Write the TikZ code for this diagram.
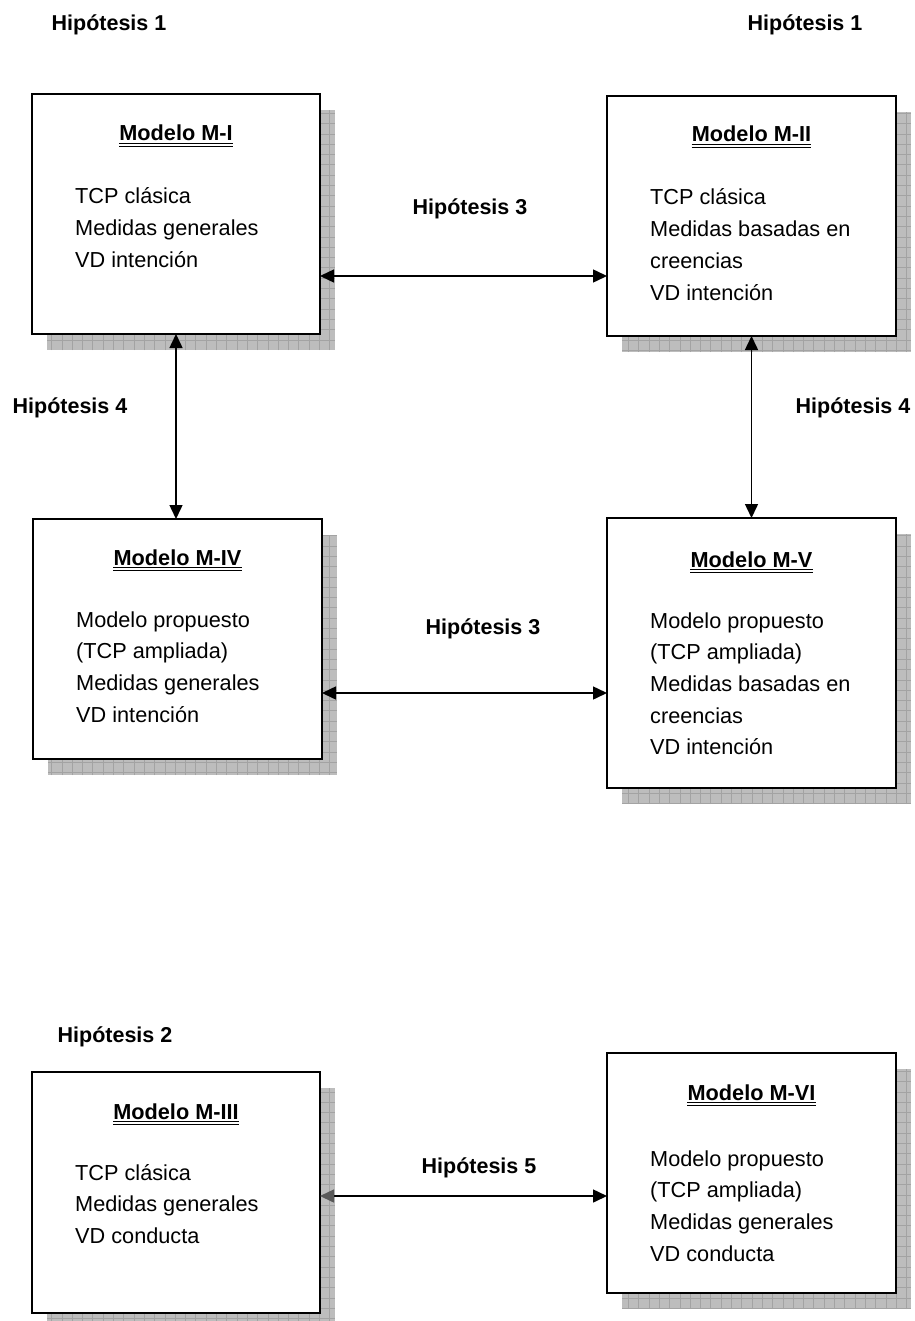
\documentclass[tikz,border=0pt]{standalone}
\usepackage{fontspec}
\setmainfont{Liberation Sans}
\usetikzlibrary{arrows.meta}

% #1 name, #2 x, #3 y (top-left), #4 width, #5 height,
% #6 title, #7 title baseline offset, #8 first body baseline offset, #9 body lines
\newcommand\modelo[9]{%
  \begin{scope}
    \clip (#2+15,#3+16) rectangle (#2+#4+15,#3+#5+16);
    \fill[shadowfill] (#2+15,#3+16) rectangle (#2+#4+15,#3+#5+16);
    \draw[shadowgrid] (#2+15,#3+16) grid[step=10.3pt] (#2+#4+15,#3+#5+16);
  \end{scope}
  \node[modelbox, minimum width=#4, minimum height=#5, anchor=north west] (#1) at (#2,#3) {};
  \node[modeltitle, anchor=base] (#1t) at ([yshift=-#7pt]#1.north) {#6};
  \draw[line width=1.1pt] ([yshift=-2.8pt]#1t.base west) -- ([yshift=-2.8pt]#1t.base east);
  \draw[line width=1.1pt] ([yshift=-5.6pt]#1t.base west) -- ([yshift=-5.6pt]#1t.base east);
  \node[modelbody, anchor=base west] (#1b) at ([xshift=43pt,yshift=-#8pt]#1.north west)
    {\vtop{\hsize=240pt\parindent=0pt\parskip=0pt\baselineskip=31.7pt #9}};
}

\begin{document}
\begin{tikzpicture}[x=1pt,y=-1pt,
  shadowfill/.style={fill=black!26},
  shadowgrid/.style={draw=black!36, line width=0.6pt},
  modelbox/.style={draw=black, line width=2pt, fill=white, inner sep=0pt, outer sep=0pt},
  modeltitle/.style={font=\fontsize{21.7pt}{26pt}\selectfont\bfseries, inner sep=0pt},
  modelbody/.style={font=\fontsize{21.7pt}{31.7pt}\selectfont, inner sep=0pt},
  hyp/.style={font=\fontsize{21.5pt}{26pt}\selectfont\bfseries, inner sep=0pt, anchor=base},
  link/.style={line width=1.5pt, {Triangle[length=14pt,width=13pt]}-{Triangle[length=14pt,width=13pt]}}
]
\useasboundingbox[fill=white] (0,0) rectangle (914,1321);

% upper grid of four models
\modelo{m1}{32}{94}{288}{240}{Modelo M-I}{47}{110}{TCP clásica\par Medidas generales\par VD intención}
\modelo{m2}{607}{96}{289}{240}{Modelo M-II}{46}{109}{TCP clásica\par Medidas basadas en\par creencias\par VD intención}
\modelo{m4}{33}{519}{289}{240}{Modelo M-IV}{46}{108}{Modelo propuesto\par (TCP ampliada)\par Medidas generales\par VD intención}
\modelo{m5}{607}{518}{289}{270}{Modelo M-V}{49}{110}{Modelo propuesto\par (TCP ampliada)\par Medidas basadas en\par creencias\par VD intención}

% lower pair of models
\modelo{m3}{32}{1072}{288}{241}{Modelo M-III}{47}{108}{TCP clásica\par Medidas generales\par VD conducta}
\modelo{m6}{607}{1053}{289}{240}{Modelo M-VI}{47}{113}{Modelo propuesto\par (TCP ampliada)\par Medidas generales\par VD conducta}

% hypothesis labels
\node[hyp] (h1a) at (109,31) {Hipótesis 1};
\node[hyp] (h1b) at (805,31) {Hipótesis 1};
\node[hyp] (h3a) at (470,215) {Hipótesis 3};
\node[hyp] (h4a) at (70,413) {Hipótesis 4};
\node[hyp] (h4b) at (853,413) {Hipótesis 4};
\node[hyp] (h3b) at (483,634) {Hipótesis 3};
\node[hyp] (h2) at (115,1042) {Hipótesis 2};
\node[hyp] (h5) at (479,1173) {Hipótesis 5};

% comparisons between models
\draw[link] (m1.east |- 0,276) -- (m2.west |- 0,276);
\draw[link] (m4.east |- 0,693) -- (m5.west |- 0,693);
\draw[link] (m1.south) -- (m1.south |- m4.north);
\draw[link] (m2.south) -- (m2.south |- m5.north);
\draw[line width=1.5pt, {Triangle[length=14pt,width=13pt,color=black!65]}-{Triangle[length=14pt,width=13pt]}]
  (m3.east |- 0,1196) -- (m6.west |- 0,1196);
\end{tikzpicture}
\end{document}
